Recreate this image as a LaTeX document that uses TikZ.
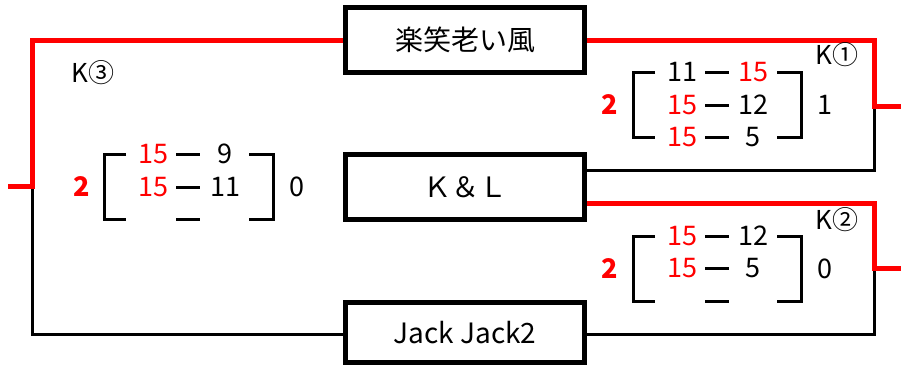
\documentclass[tikz,border=0pt]{standalone}
\usepackage{fontspec}
\setmainfont{Noto Sans CJK JP}
\definecolor{win}{RGB}{255,0,0}
\newcommand{\brkframe}[5]{%
  % #1 left x, #2 right x, #3 top row y, #4 middle row y, #5 bottom row y
  \draw[brk] (#1+22,#3) -- (#1,#3) -- (#1,#5) -- (#1+22,#5);
  \draw[brk] (#2-24,#3) -- (#2,#3) -- (#2,#5) -- (#2-24,#5);
  \draw[brk] (#1+72,#3) -- (#1+96,#3);
  \draw[brk] (#1+72,#4) -- (#1+96,#4);
  \draw[brk] (#1+72,#5) -- (#1+96,#5);
}
\begin{document}
\begin{tikzpicture}[x=1pt,y=-1pt,
  team/.style={draw, line width=5pt, minimum width=239pt, minimum height=65pt, inner sep=0pt, font=\fontsize{28}{28}\selectfont},
  wire/.style={line width=3pt, black},
  winwire/.style={line width=5pt, win},
  brk/.style={line width=3pt, black},
  sc/.style={inner sep=0pt, font=\fontsize{27}{27}\selectfont},
  rsc/.style={sc, text=win},
  tot/.style={inner sep=0pt, text=win, font=\fontsize{27}{27}\selectfont\bfseries},
  lbl/.style={inner sep=0pt, font=\fontsize{26}{26}\selectfont}]
\useasboundingbox (0,0) rectangle (901,367);

% team boxes
\node[team] (k1) at (465,40) {楽笑老い風};
\node[team] (k2) at (465,187) {Ｋ＆Ｌ};
\node[team, minimum height=60pt] (k3) at (465,332.5) {Jack Jack2};

% bracket corner coordinates
\coordinate (lt) at (32,40);
\coordinate (lm) at (32,186);
\coordinate (lo) at (8,186);
\coordinate (lb) at (32,334);
\coordinate (r1t) at (874,40);
\coordinate (r1m) at (874,106);
\coordinate (r1o) at (901,106);
\coordinate (r1b) at (874,170);
\coordinate (r2t) at (874,203);
\coordinate (r2m) at (874,268);
\coordinate (r2o) at (901,268);
\coordinate (r2b) at (874,334);

% losing (black) connectors
\draw[wire] (lm) -- (lb) -- (k3.west |- lb);
\draw[wire] (r1m) -- (r1b) -- (k2.east |- r1b);
\draw[wire] (r2m) -- (r2b) -- (k3.east |- r2b);

% winning (red) connectors
\draw[winwire] (k1.west |- lt) -- (lt) -- (lm) -- (lo);
\draw[winwire] (k1.east |- r1t) -- (r1t) -- (r1m) -- (r1o);
\draw[winwire] (k2.east |- r2t) -- (r2t) -- (r2m) -- (r2o);

% match labels
\node[lbl] (m3) at (93,73) {K③};
\node[lbl] (m1) at (837,55) {K①};
\node[lbl] (m2) at (837,220) {K②};

% score frames
\brkframe{633}{801}{72}{105}{137}
\brkframe{633}{801}{236}{268.5}{301}
\brkframe{104}{273}{154}{187}{219}

% match 1 scores
\node[sc]  (a11) at (682,72)  {11};
\node[rsc] (a12) at (753,72)  {15};
\node[rsc] (a21) at (682,105) {15};
\node[sc]  (a22) at (753,105) {12};
\node[rsc] (a31) at (682,137) {15};
\node[sc]  (a32) at (753,137) {5};
\node[tot] (at1) at (610,105) {2};
\node[sc]  (at2) at (825,105) {1};

% match 2 scores
\node[rsc] (b11) at (682,236)   {15};
\node[sc]  (b12) at (753,236)   {12};
\node[rsc] (b21) at (682,268.5) {15};
\node[sc]  (b22) at (753,268.5) {5};
\node[tot] (bt1) at (610,268.5) {2};
\node[sc]  (bt2) at (825,268.5) {0};

% match 3 scores
\node[rsc] (c11) at (153,154) {15};
\node[sc]  (c12) at (225,154) {9};
\node[rsc] (c21) at (153,187) {15};
\node[sc]  (c22) at (225,187) {11};
\node[tot] (ct1) at (82,187)  {2};
\node[sc]  (ct2) at (297,187) {0};
\end{tikzpicture}
\end{document}
